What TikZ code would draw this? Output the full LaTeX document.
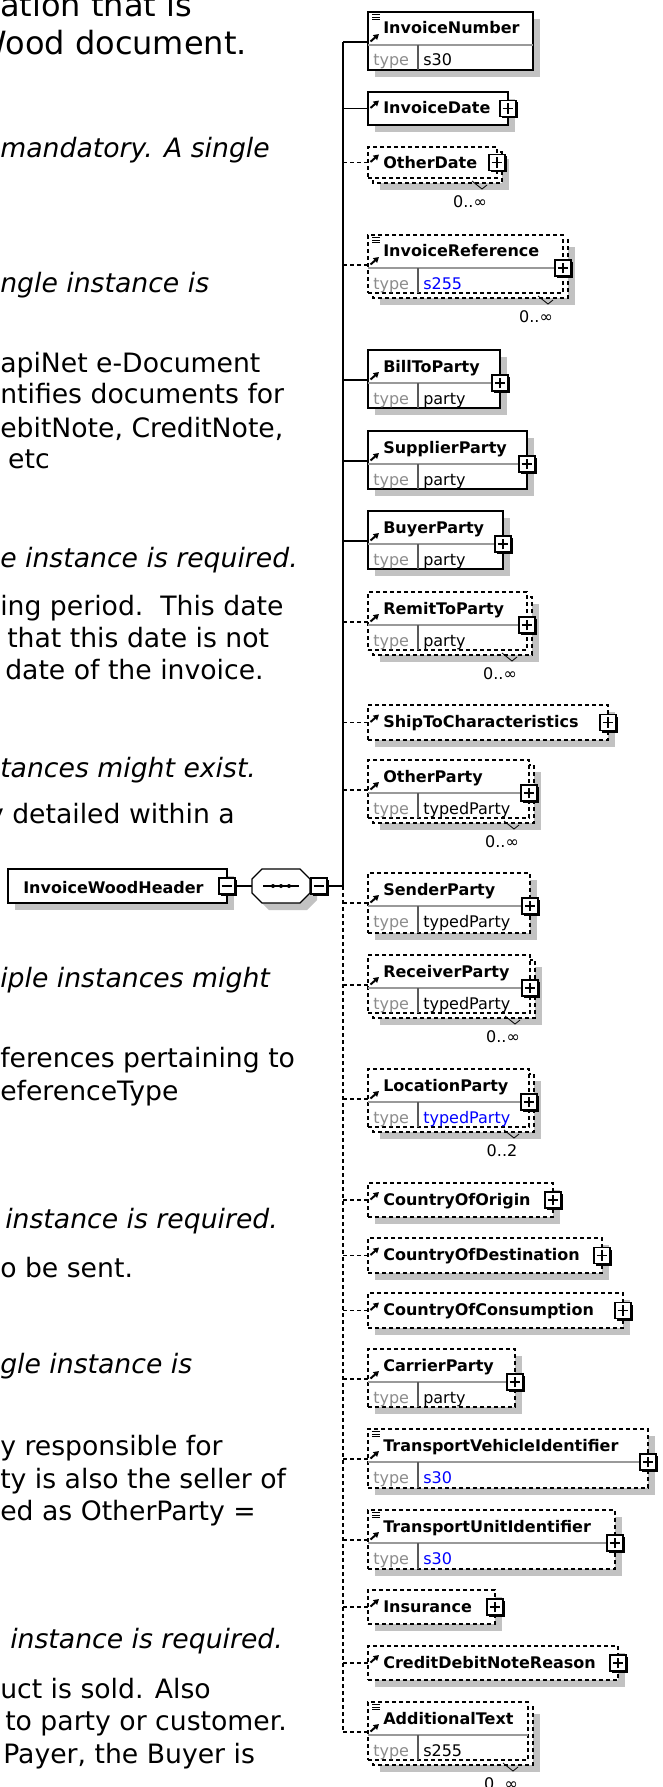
\documentclass[tikz,border=0pt]{standalone}
\usepackage{fontspec}
\setmainfont{DejaVu Sans}[BoldFont={DejaVu Sans Bold},ItalicFont={DejaVu Sans Oblique}]
\usepackage{tikz}
\usetikzlibrary{arrows.meta,positioning,shadows}

\tikzset{
  mand/.style={draw=black, fill=white, line width=1pt, inner sep=0pt, outer sep=0pt, anchor=north west},
  opt/.style={mand, dash pattern=on 3pt off 2.25pt},
  shade/.style={fill=black!24},
  link/.style={draw=black, line width=1pt},
  optlink/.style={link, dash pattern=on 3pt off 2.25pt},
  refarrow/.style={line width=1.5pt, -{Triangle[length=4pt,width=4.5pt]}},
  facet/.style={line width=0.6pt},
  rowline/.style={draw=black!40, line width=0.8pt},
  colline/.style={draw=black!65, line width=0.8pt},
  elname/.style={font=\bfseries\fontsize{12}{14}\selectfont, anchor=base west, inner sep=0pt},
  typekey/.style={font=\fontsize{12}{14}\selectfont, text=black!45, anchor=base west, inner sep=0pt},
  typeval/.style={font=\fontsize{12}{14}\selectfont, anchor=base west, inner sep=0pt},
  occ/.style={font=\fontsize{12}{14}\selectfont, inner sep=0pt},
  togglebox/.style={draw=black, fill=white, line width=0.8pt, minimum size=12pt, inner sep=0pt,
    general shadow={fill=black, shadow xshift=1.5pt, shadow yshift=-1.5pt}},
  plusbox/.style={togglebox, path picture={
    \draw[line width=0.8pt] ([xshift=-4pt]path picture bounding box.center) -- ([xshift=4pt]path picture bounding box.center)
      ([yshift=-4pt]path picture bounding box.center) -- ([yshift=4pt]path picture bounding box.center);}},
  minusbox/.style={togglebox, path picture={
    \draw[line width=0.8pt] ([xshift=-4pt]path picture bounding box.center) -- ([xshift=4pt]path picture bounding box.center);}},
  seqbox/.style={inner sep=0pt, outer sep=0pt, minimum width=43.5pt, minimum height=25.5pt},
  doc/.style={font=\fontsize{20}{24}\selectfont, anchor=base west, inner sep=0pt},
  docit/.style={doc, font=\fontsize{20}{24}\selectfont\itshape},
  doctitle/.style={doc, font=\fontsize{24}{28}\selectfont}
}

% element box with shadow and name
\newcommand{\xsel}[6]{%
  \fill[shade] (375,#3+7) rectangle ++(#4,#5);
  \node[#2, minimum width=#4*0.75pt, minimum height=#5*0.75pt] (#1) at (368,#3) {};
  \node[elname] (#1-name) at (383,#3+22) {#6};}
% element box drawn twice (0..n)
\newcommand{\xsmulti}[6]{%
  \fill[shade] (380,#3+12) rectangle ++(#4,#5);
  \draw[#2] (373,#3+5) rectangle ++(#4,#5);
  \node[#2, minimum width=#4*0.75pt, minimum height=#5*0.75pt] (#1) at (368,#3) {};
  \node[elname] (#1-name) at (383,#3+22) {#6};}
\newcommand{\xstype}[5]{%
  \draw[rowline] (368,#2+33) -- ++(#3,0);
  \draw[colline] (418,#2+33) -- (418,#2+#4);
  \node[typekey] (#1-key) at (373,#2+54) {type};
  \node[typeval] (#1-val) at (423,#2+54) {#5};}
\newcommand{\xsfacet}[1]{\draw[facet] (372,#1+2.5) -- ++(8,0) (372,#1+5) -- ++(8,0) (372,#1+7.5) -- ++(8,0);}
\newcommand{\xsplus}[3]{\node[plusbox] (#1-plus) at (#2,#3) {};}
\newcommand{\xsocc}[4]{%
  \draw[line width=0.6pt] (#2-30,#3-2) -- (#2-20,#3+6) -- (#2-15,#3+2);
  \node[occ] (#1-occ) at (#2-32,#3+19) {#4};}
\newcommand{\xslink}[3]{%
  \coordinate (#1-t) at (343,#3);
  \coordinate (#1-in) at (368,#3);
  \draw[#2] (#1-t) -- (#1-in);
  \draw[refarrow] (370.5,#3-0.5) -- ++(8.5,-7.5);}

\begin{document}
\begin{tikzpicture}[x=0.75pt,y=-0.75pt,>=Latex]
    \useasboundingbox (0,0) rectangle (662,1787);
    \clip (0,0) rectangle (662,1787);

    % documentation text, cut at the left edge
    \node[doctitle] (t1) at (0,17) {ation that is};
    \node[doctitle, anchor=base east] (t2) at (247,55) {Wood document.};
    \node[docit, anchor=base east] (d1) at (270,158) {mandatory. A single};
    \node[docit] (d2) at (0,292) {ngle instance is};
    \node[doc] (d3) at (0,372) {apiNet e-Document};
    \node[doc] (d4) at (0,403) {ntifies documents for};
    \node[doc] (d5) at (0,437) {ebitNote, CreditNote,};
    \node[doc, anchor=base east] (d6) at (50,468) {t etc};
    \node[docit] (d7) at (0,567) {e instance is required.};
    \node[doc] (d8) at (0,615) {ing period.\ \ This date};
    \node[doc] (d9) at (7,647) {that this date is not};
    \node[doc] (d10) at (5,679) {date of the invoice.};
    \node[docit] (d11) at (0,777) {tances might exist.};
    \node[doc, anchor=base east] (d12) at (235,823) {y detailed within a};
    \node[docit] (d13) at (0,987) {iple instances might};
    \node[doc] (d14) at (0,1067) {ferences pertaining to};
    \node[doc] (d15) at (0,1100) {eferenceType};
    \node[docit] (d16) at (5,1228) {instance is required.};
    \node[doc] (d17) at (0,1277) {o be sent.};
    \node[docit] (d18) at (0,1373) {gle instance is};
    \node[doc] (d19) at (0,1455) {y responsible for};
    \node[doc] (d20) at (0,1488) {ty is also the seller of};
    \node[doc] (d21) at (0,1520) {ed as OtherParty =};
    \node[docit] (d22) at (10,1648) {instance is required.};
    \node[doc] (d23) at (0,1698) {uct is sold. Also};
    \node[doc] (d24) at (5,1730) {to party or customer.};
    \node[doc] (d25) at (3,1763) {Payer, the Buyer is};

    % root element and sequence
    \fill[shade] (15,876) rectangle ++(219,34);
    \node[mand, minimum width=219*0.75pt, minimum height=34*0.75pt] (root) at (8,869) {};
    \node[elname] (root-name) at (23,893) {InvoiceWoodHeader};
    \node[minusbox] (root-min) at (227,886) {};
    \fill[shade] (269,876) -- (307,876) -- (317,886) -- (317,900) -- (307,910) -- (269,910) -- (259,900) -- (259,886) -- cycle;
    \draw[fill=white, line width=1pt] (262,869) -- (300,869) -- (310,879) -- (310,893) -- (300,903) -- (262,903) -- (252,893) -- (252,879) -- cycle;
    \node[seqbox] (seq) at (281,886) {};
    \draw[line width=0.8pt] (263,886) -- (299,886);
    \fill (273,886) circle (2) (281,886) circle (2) (289,886) circle (2);
    \node[minusbox] (seq-min) at (319,886) {};
    \coordinate (seq-join) at (343,886);
    \draw[link] (root-min) -- (seq);
    \draw[link] (seq-min) -- (seq-join);

    % children
    \xsel{invnum}{mand}{12}{165}{58}{InvoiceNumber}
    \xstype{invnum}{12}{165}{58}{s30}
    \xsfacet{12}
    \xslink{invnum}{link}{42}

    \xsel{invdate}{mand}{92}{140}{33}{InvoiceDate}
    \xsplus{invdate}{508}{108.5}
    \xslink{invdate}{link}{108.5}

    \xsmulti{othdate}{opt}{147}{129}{31}{OtherDate}
    \xsplus{othdate}{497}{162.5}
    \xsocc{othdate}{502}{183}{0..∞}
    \xslink{othdate}{optlink}{162.5}

    \xsmulti{invref}{opt}{235}{195}{58}{InvoiceReference}
    \xstype{invref}{235}{195}{58}{\textcolor{blue}{s255}}
    \xsfacet{235}
    \xsplus{invref}{563}{268}
    \xsocc{invref}{568}{298}{0..∞}
    \xslink{invref}{optlink}{265}

    \xsel{billto}{mand}{350}{132}{58}{BillToParty}
    \xstype{billto}{350}{132}{58}{party}
    \xsplus{billto}{500}{383}
    \xslink{billto}{link}{380}

    \xsel{supplier}{mand}{431}{159}{58}{SupplierParty}
    \xstype{supplier}{431}{159}{58}{party}
    \xsplus{supplier}{527}{464}
    \xslink{supplier}{link}{461}

    \xsel{buyer}{mand}{511}{135}{58}{BuyerParty}
    \xstype{buyer}{511}{135}{58}{party}
    \xsplus{buyer}{503}{544}
    \xslink{buyer}{link}{541}

    \xsmulti{remit}{opt}{592}{159}{58}{RemitToParty}
    \xstype{remit}{592}{159}{58}{party}
    \xsplus{remit}{527}{625}
    \xsocc{remit}{532}{655}{0..∞}
    \xslink{remit}{optlink}{622}

    \xsel{shipto}{opt}{705}{240}{35}{ShipToCharacteristics}
    \xsplus{shipto}{608}{722.5}
    \xslink{shipto}{optlink}{722.5}

    \xsmulti{other}{opt}{760}{161}{58}{OtherParty}
    \xstype{other}{760}{161}{58}{typedParty}
    \xsplus{other}{529}{793}
    \xsocc{other}{534}{823}{0..∞}
    \xslink{other}{optlink}{790}

    \xsel{sender}{opt}{873}{162}{60}{SenderParty}
    \xstype{sender}{873}{162}{60}{typedParty}
    \xsplus{sender}{530}{906}
    \xslink{sender}{optlink}{903}

    \xsmulti{receiver}{opt}{955}{162}{58}{ReceiverParty}
    \xstype{receiver}{955}{162}{58}{typedParty}
    \xsplus{receiver}{530}{988}
    \xsocc{receiver}{535}{1018}{0..∞}
    \xslink{receiver}{optlink}{985}

    \xsmulti{location}{opt}{1069}{161}{58}{LocationParty}
    \xstype{location}{1069}{161}{58}{\textcolor{blue}{typedParty}}
    \xsplus{location}{529}{1102}
    \xsocc{location}{534}{1132}{0..2}
    \xslink{location}{optlink}{1099}

    \xsel{origin}{opt}{1183}{185}{34}{CountryOfOrigin}
    \xsplus{origin}{553}{1200}
    \xslink{origin}{optlink}{1200}

    \xsel{destination}{opt}{1238}{234}{35}{CountryOfDestination}
    \xsplus{destination}{602}{1255.5}
    \xslink{destination}{optlink}{1255.5}

    \xsel{consumption}{opt}{1293}{255}{35}{CountryOfConsumption}
    \xsplus{consumption}{623}{1310.5}
    \xslink{consumption}{optlink}{1310.5}

    \xsel{carrier}{opt}{1349}{147}{58}{CarrierParty}
    \xstype{carrier}{1349}{147}{58}{party}
    \xsplus{carrier}{515}{1382}
    \xslink{carrier}{optlink}{1379}

    \xsel{vehicle}{opt}{1429}{280}{59}{TransportVehicleIdentifier}
    \xstype{vehicle}{1429}{280}{59}{\textcolor{blue}{s30}}
    \xsfacet{1429}
    \xsplus{vehicle}{648}{1462}
    \xslink{vehicle}{optlink}{1459}

    \xsel{unit}{opt}{1510}{247}{59}{TransportUnitIdentifier}
    \xstype{unit}{1510}{247}{59}{\textcolor{blue}{s30}}
    \xsfacet{1510}
    \xsplus{unit}{615}{1543}
    \xslink{unit}{optlink}{1540}

    \xsel{insurance}{opt}{1590}{127}{34}{Insurance}
    \xsplus{insurance}{495}{1607}
    \xslink{insurance}{optlink}{1607}

    \xsel{reason}{opt}{1646}{250}{34}{CreditDebitNoteReason}
    \xsplus{reason}{618}{1663}
    \xslink{reason}{optlink}{1663}

    \xsmulti{addtext}{opt}{1702}{160}{58}{AdditionalText}
    \xstype{addtext}{1702}{160}{58}{s255}
    \xsfacet{1702}
    \xsocc{addtext}{533}{1765}{0..∞}
    \xslink{addtext}{optlink}{1732}

    % trunk of the sequence
    \draw[link] (invnum-t) -- (seq-join);
    \draw[optlink] (seq-join) -- (addtext-t);
\end{tikzpicture}
\end{document}
